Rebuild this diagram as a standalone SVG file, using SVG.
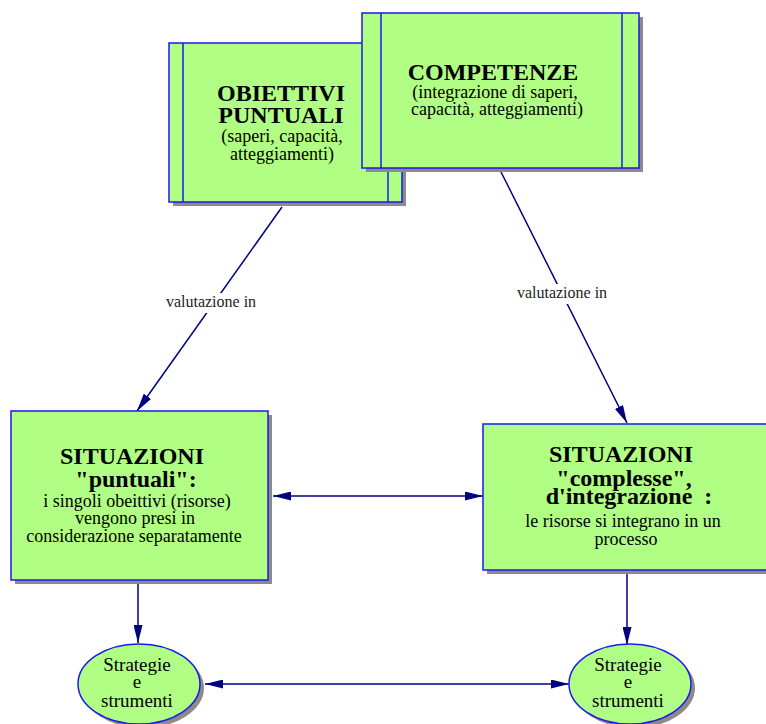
<svg xmlns="http://www.w3.org/2000/svg" width="766" height="724" viewBox="0 0 766 724">
<defs>
<marker id="ah" viewBox="0 0 18 9" refX="18" refY="4.5" markerWidth="18" markerHeight="9" markerUnits="userSpaceOnUse" orient="auto-start-reverse">
<path d="M0,0 L18,4.5 L0,9 z" fill="#000080"/>
</marker>
<style>
.box{fill:#b0fe84;stroke:#1a1aee;stroke-width:1.5}
.sh{fill:#8f8a8a}
.in{stroke:#1a1aee;stroke-width:1.5}
.t{font-family:"Liberation Serif","Times New Roman",serif;fill:#000;text-anchor:middle}
.b{font-weight:bold;font-size:24px}
.r{font-size:18px}
.lbl{font-family:"Liberation Serif","Times New Roman",serif;font-size:16px;fill:#222;text-anchor:middle}
.c{fill:none;stroke:#000080;stroke-width:1.5}
</style>
</defs>
<rect width="766" height="724" fill="#fff"/>
<g id="connectors">
<line class="c" x1="282" y1="207" x2="137" y2="411" marker-end="url(#ah)"/>
<line class="c" x1="501" y1="172" x2="627" y2="423" marker-end="url(#ah)"/>
<line class="c" x1="273" y1="496" x2="483" y2="496" marker-start="url(#ah)" marker-end="url(#ah)"/>
<line class="c" x1="138" y1="584" x2="138" y2="643" marker-end="url(#ah)"/>
<line class="c" x1="627" y1="574" x2="627" y2="645" marker-end="url(#ah)"/>
<line class="c" x1="205" y1="684" x2="569" y2="684" marker-start="url(#ah)" marker-end="url(#ah)"/>
<rect x="164" y="293" width="94" height="20" fill="#fff"/>
<text class="lbl" x="211" y="307">valutazione in</text>
<rect x="515" y="284" width="94" height="20" fill="#fff"/>
<text class="lbl" x="562" y="298">valutazione in</text>
</g>
<g id="obiettivi">
<rect class="sh" x="173" y="47" width="233" height="159"/>
<rect class="box" x="169" y="43" width="233" height="159"/>
<line class="in" x1="183" y1="43" x2="183" y2="202"/>
<line class="in" x1="388" y1="43" x2="388" y2="202"/>
<text class="t b" x="281" y="101">OBIETTIVI</text>
<text class="t b" x="281" y="123">PUNTUALI</text>
<text class="t r" x="282" y="142">(saperi, capacità,</text>
<text class="t r" x="282" y="160">atteggiamenti)</text>
</g>
<g id="competenze">
<rect class="sh" x="366" y="17" width="277" height="155"/>
<rect class="box" x="362" y="13" width="277" height="155"/>
<line class="in" x1="381" y1="13" x2="381" y2="168"/>
<line class="in" x1="622" y1="13" x2="622" y2="168"/>
<text class="t b" x="493" y="80">COMPETENZE</text>
<text class="t r" x="495" y="98">(integrazione di saperi,</text>
<text class="t r" x="497" y="115">capacità, atteggiamenti)</text>
</g>
<g id="situazioni-puntuali">
<rect class="sh" x="15" y="415" width="257" height="169"/>
<rect class="box" x="11" y="411" width="257" height="169"/>
<text class="t b" x="132" y="464">SITUAZIONI</text>
<text class="t b" x="136" y="487">"puntuali":</text>
<text class="t r" x="137" y="507">i singoli obeittivi (risorse)</text>
<text class="t r" x="135" y="524">vengono presi in</text>
<text class="t r" x="134" y="542">considerazione separatamente</text>
</g>
<g id="situazioni-complesse">
<rect class="sh" x="487" y="428" width="284" height="146"/>
<rect class="box" x="483" y="424" width="284" height="146"/>
<text class="t b" x="621" y="462">SITUAZIONI</text>
<text class="t b" x="624" y="486">"complesse",</text>
<text class="t b" x="629" y="504" xml:space="preserve">d'integrazione  :</text>
<text class="t r" x="623" y="527">le risorse si integrano in un</text>
<text class="t r" x="626" y="545">processo</text>
</g>
<g id="strategie-1">
<ellipse class="sh" cx="143" cy="688" rx="61" ry="40"/>
<ellipse class="box" cx="139" cy="684" rx="61" ry="40"/>
<text class="t" style="font-size:19px" x="137" y="671">Strategie</text>
<text class="t" style="font-size:19px" x="137" y="688">e</text>
<text class="t" style="font-size:19px" x="137" y="707">strumenti</text>
</g>
<g id="strategie-2">
<ellipse class="sh" cx="634" cy="688" rx="61" ry="40"/>
<ellipse class="box" cx="630" cy="684" rx="61" ry="40"/>
<text class="t" style="font-size:19px" x="628" y="671">Strategie</text>
<text class="t" style="font-size:19px" x="628" y="688">e</text>
<text class="t" style="font-size:19px" x="628" y="707">strumenti</text>
</g>
</svg>
